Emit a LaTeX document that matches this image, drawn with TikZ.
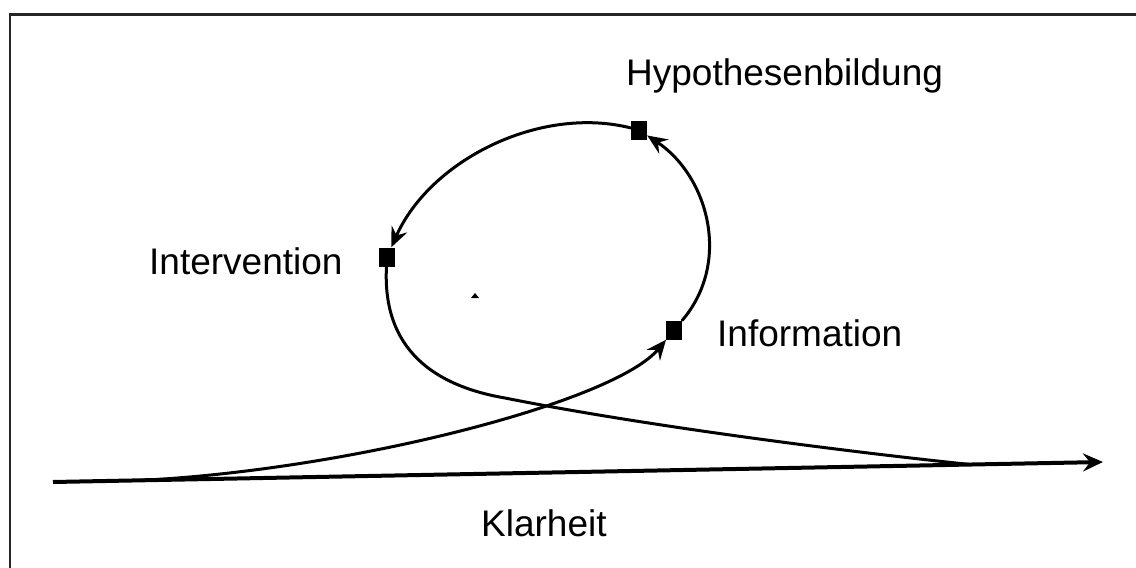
\documentclass[tikz,border=0pt]{standalone}
\usepackage{fontspec}
\setmainfont{Liberation Sans}
\usetikzlibrary{arrows.meta}
\begin{document}
\begin{tikzpicture}[x=1pt,y=-1pt,
  marker/.style={fill=black, draw=none, minimum width=16pt, minimum height=19pt, inner sep=0pt},
  lbl/.style={font=\fontsize{37}{40}\selectfont, inner sep=0pt, anchor=base west},
  curve/.style={line width=3pt, line cap=round},
  tip/.style={-{Stealth[length=20pt,width=17pt,inset=7pt]}},
  baseline/.style={line width=4pt, -{Stealth[length=20pt,width=18pt,inset=7pt]}},
  frame/.style={line width=2.2pt, black!85}]
\useasboundingbox (0,0) rectangle (1136,568);
% frame
\coordinate (f1) at (10,568);
\coordinate (f2) at (10,14.5);
\coordinate (f3) at (1136,14.5);
\draw[frame] (f1) -- (f2) -- (f3);
% markers
\node[marker] (hyp) at (639,130) {};
\node[marker] (int) at (387,257) {};
\node[marker] (inf) at (674,330) {};
% labels
\node[lbl] (thyp) at (626,85) {Hypothesenbildung};
\node[lbl] (tint) at (149,274) {Intervention};
\node[lbl] (tinf) at (717,346) {Information};
\node[lbl] (tkla) at (481,536) {Klarheit};
% coordinates
\coordinate (bs) at (53,482);
\coordinate (be) at (1103,462);
\coordinate (rs) at (140,480.4);
\coordinate (m) at (505,398);
\coordinate (me) at (970,464.5);
% baseline
\draw[baseline] (bs) -- (be);
% loop
\draw[curve,tip] (rs) .. controls (350,470) and (615,402) .. (inf);
\draw[curve,tip] (inf) .. controls (732,262) and (708,176) .. (hyp);
\draw[curve,tip] (hyp) .. controls (540,105) and (430,160) .. (int);
\draw[curve] (int) .. controls (382,350) and (435,386) .. (m) .. controls (645,426) and (850,452) .. (me);
% speck
\fill (471,298) -- (479,298) -- (475,293) -- cycle;
\end{tikzpicture}
\end{document}
